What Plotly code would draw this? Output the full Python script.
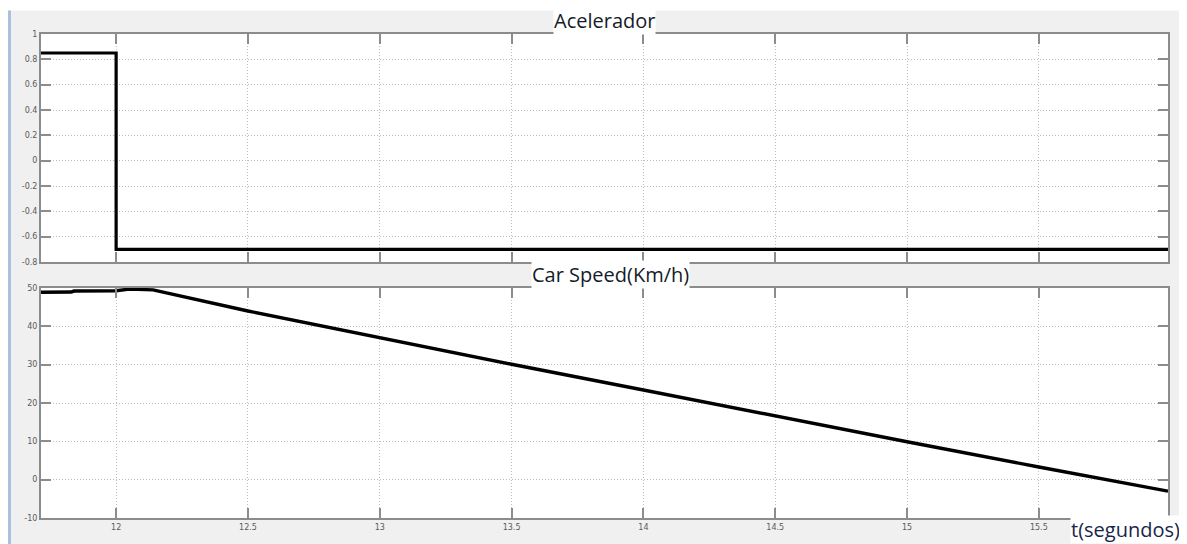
import plotly.graph_objects as go
from plotly.subplots import make_subplots

# ---- data ----
accel_t = [11.715, 12.0, 12.0, 15.99]
accel_val = [0.85, 0.85, -0.7, -0.7]

speed_t = [11.715, 11.83, 11.84, 12.0, 12.05, 12.08, 12.14, 12.5, 13.0, 13.5, 14.0, 14.5, 15.0, 15.5, 15.99]
speed_val = [48.9, 48.95, 49.2, 49.3, 49.7, 49.7, 49.5, 44.0, 37.0, 30.1, 23.4, 16.6, 9.9, 3.3, -3.0]

x_ticks = [12, 12.5, 13, 13.5, 14, 14.5, 15, 15.5]
x_labels = ["12", "12.5", "13", "13.5", "14", "14.5", "15", "15.5"]
accel_ticks = [1, 0.8, 0.6, 0.4, 0.2, 0, -0.2, -0.4, -0.6, -0.8]
accel_labels = ["1", "0.8", "0.6", "0.4", "0.2", "0", "-0.2", "-0.4", "-0.6", "-0.8"]
speed_ticks = [50, 40, 30, 20, 10, 0, -10]
speed_labels = ["50", "40", "30", "20", "10", "0", "-10"]

x_range = [11.715, 15.99]

# page body has an 8px margin: the figure sits at (8, 8) in the window
OFF = 8
W, H = 1187 - OFF, 544 - OFF
ML, MR, MT, MB = 41 - OFF, W - (1168 - OFF), 34 - OFF, H - (518 - OFF)
PW, PH = W - ML - MR, H - MT - MB


def px(xw):
    """window x pixel -> paper fraction"""
    return (xw - OFF - ML) / PW


def py(yw):
    """window y pixel -> paper fraction"""
    return (H - MB - (yw - OFF)) / PH


fig = make_subplots(rows=2, cols=1, shared_xaxes=False, vertical_spacing=0.0)

fig.add_trace(go.Scatter(x=accel_t, y=accel_val, mode="lines",
                         line=dict(color="black", width=3.2), showlegend=False), row=1, col=1)
fig.add_trace(go.Scatter(x=speed_t, y=speed_val, mode="lines",
                         line=dict(color="black", width=3.4), showlegend=False), row=2, col=1)

axis_common = dict(
    showline=True, linecolor="#8c8c8c", linewidth=2, mirror="ticks",
    ticks="inside", ticklen=10, tickwidth=2, tickcolor="#8c8c8c",
    showgrid=True, gridcolor="#bdbdbd", gridwidth=1, griddash="1px,2px",
    zeroline=False,
    tickfont=dict(family="DejaVu Sans", size=8, color="#5a5a5a"),
)

fig.update_layout(
    xaxis=dict(domain=[0, 1], range=x_range, tickvals=x_ticks, ticktext=x_labels,
               showticklabels=False, anchor="y", **axis_common),
    yaxis=dict(domain=[py(262), 1], range=[-0.8, 1], tickvals=accel_ticks,
               ticktext=accel_labels, anchor="x", **axis_common),
    xaxis2=dict(domain=[0, 1], range=x_range, tickvals=x_ticks, ticktext=x_labels,
                anchor="y2", **axis_common),
    yaxis2=dict(domain=[0, py(288)], range=[-10, 50], tickvals=speed_ticks,
                ticktext=speed_labels, anchor="x2", **axis_common),
)

fig.update_layout(
    width=W, height=H,
    margin=dict(l=ML, r=MR, t=MT, b=MB),
    paper_bgcolor="#f0f0f0",
    plot_bgcolor="white",
    showlegend=False,
)

shapes = [
    dict(type="rect", xref="paper", yref="paper", x0=px(-5), x1=px(1195), y0=py(10.5), y1=py(-5),
         fillcolor="white", line=dict(width=0), layer="below"),
    dict(type="rect", xref="paper", yref="paper", x0=px(1182), x1=px(1195), y0=py(560), y1=py(-5),
         fillcolor="white", line=dict(width=0), layer="below"),
    dict(type="line", xref="paper", yref="paper", x0=px(9.5), x1=px(9.5), y0=py(560), y1=py(10.5),
         line=dict(color="#a9c1de", width=3), layer="below"),
]
fig.update_layout(shapes=shapes)

fig.add_annotation(text="Acelerador", xref="paper", yref="paper", x=px(604), y=py(20.5),
                   xanchor="center", yanchor="middle", showarrow=False, bgcolor="white",
                   borderpad=0, font=dict(family="Open Sans", size=20, color="#141c2a"))
fig.add_annotation(text="Car Speed(Km/h)", xref="paper", yref="paper", x=px(610), y=py(274),
                   xanchor="center", yanchor="middle", showarrow=False, bgcolor="white",
                   borderpad=0, font=dict(family="Open Sans", size=20, color="#141c2a"))
fig.add_annotation(text="t(segundos)", xref="paper", yref="paper", x=px(1181), y=py(544),
                   xanchor="right", yanchor="bottom", showarrow=False, bgcolor="white",
                   borderpad=0, font=dict(family="Open Sans", size=20, color="#17264a"))

fig.write_html("out.html")
